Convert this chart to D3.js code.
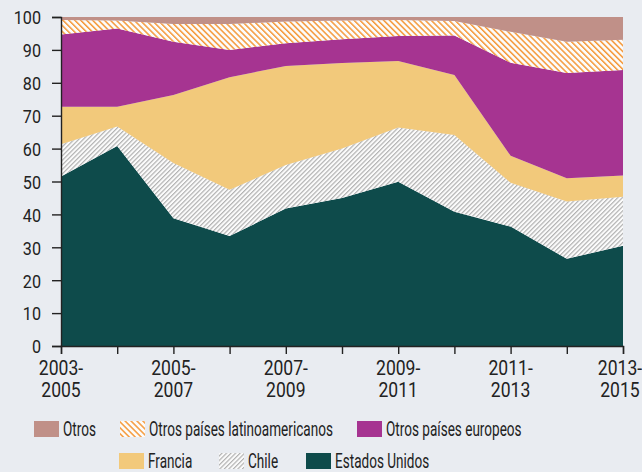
<!DOCTYPE html>
<html>
<head>
<meta charset="utf-8">
<script src="https://cdn.jsdelivr.net/npm/d3@7"></script>
<style>
  body { margin: 0; background: #e9ecf1; }
  svg { display: block; font-family: "Roboto", "Liberation Sans", sans-serif; }
</style>
</head>
<body>
<svg width="642" height="472"></svg>
<script>
// periods (3-year rolling)
const periods = ["2003-2005", "2004-2006", "2005-2007", "2006-2008", "2007-2009", "2008-2010",
  "2009-2011", "2010-2012", "2011-2013", "2012-2014", "2013-2015"];

// shares in percent, bottom to top
const estadosUnidos = [51.5, 60.8, 38.8, 33.4, 41.8, 45.0, 49.9, 40.8, 36.3, 26.5, 30.5];
const chile = [9.8, 5.9, 16.8, 14.1, 13.2, 15.0, 16.5, 23.3, 13.3, 17.4, 14.9];
const francia = [11.4, 6.0, 20.7, 34.2, 30.1, 26.0, 20.2, 18.3, 8.2, 7.1, 6.4];
const otrosEuropeos = [22.0, 23.8, 16.2, 8.3, 6.9, 7.2, 7.6, 12.0, 28.3, 32.0, 32.1];
const otrosLatinos = [4.4, 2.4, 5.4, 7.9, 6.6, 5.7, 4.9, 4.4, 9.4, 9.5, 9.2];
const otros = [0.9, 1.1, 2.1, 2.1, 1.4, 1.1, 0.9, 1.2, 4.5, 7.5, 6.9];

const yTicks = [0, 10, 20, 30, 40, 50, 60, 70, 80, 90, 100];

const series = [
  { key: "us", name: "Estados Unidos", values: estadosUnidos, fill: "#0e4b4b" },
  { key: "cl", name: "Chile", values: chile, fill: "url(#hatchGray)" },
  { key: "fr", name: "Francia", values: francia, fill: "#f2c97b" },
  { key: "oe", name: "Otros países europeos", values: otrosEuropeos, fill: "#a63491" },
  { key: "ol", name: "Otros países latinoamericanos", values: otrosLatinos, fill: "url(#hatchOrange)" },
  { key: "ot", name: "Otros", values: otros, fill: "#c09088" }
];

const svg = d3.select("svg");
const margin = { left: 61, right: 19, top: 17, bottom: 126 };
const width = 642, height = 472;

const x = d3.scalePoint().domain(periods).range([margin.left, width - margin.right]);
const y = d3.scaleLinear().domain([0, 100]).range([height - margin.bottom, margin.top]);

// patterns
const defs = svg.append("defs");
function hatch(id, color, dir, size, lw) {
  const p = defs.append("pattern")
    .attr("id", id)
    .attr("patternUnits", "userSpaceOnUse")
    .attr("width", size).attr("height", size)
    .attr("patternTransform", `rotate(${dir})`);
  p.append("rect").attr("width", size).attr("height", size).attr("fill", "#fcfcfc");
  p.append("rect").attr("width", lw).attr("height", size).attr("fill", color);
}
hatch("hatchGray", "#b2b2b2", 45, 3.2, 1.2);
hatch("hatchOrange", "#f5993a", -45, 4.2, 1.5);

const table = periods.map((p, i) => {
  const row = { period: p };
  series.forEach(s => row[s.key] = s.values[i]);
  return row;
});

const layers = d3.stack().keys(series.map(s => s.key))(table);

const area = d3.area()
  .x(d => x(d.data.period))
  .y0(d => y(d[0]))
  .y1(d => y(d[1]));

// the top layer ("Otros") closes the stack at 100
const topArea = d3.area()
  .x(d => x(d.data.period))
  .y0(d => y(d[0]))
  .y1(y(100));

svg.append("g")
  .selectAll("path")
  .data(layers)
  .join("path")
  .attr("d", (d, i) => i === layers.length - 1 ? topArea(d) : area(d))
  .attr("fill", (d, i) => series[i].fill);

// squeeze text horizontally to mimic the condensed face
function condense(sel, k) {
  sel.each(function() {
    const t = d3.select(this);
    const tx = +t.attr("x") || 0;
    t.attr("transform", `translate(${tx},0) scale(${k},1) translate(${-tx},0)`);
  });
}

// axes
const yAxis = d3.axisLeft(y).tickValues(yTicks).tickSize(9).tickPadding(11);
const gy = svg.append("g").attr("transform", `translate(${margin.left},0)`).call(yAxis);
gy.attr("font-family", null).attr("font-size", null);
gy.select(".domain").attr("stroke", "#222").attr("stroke-width", 1.4);
gy.selectAll(".tick line").attr("stroke", "#222").attr("stroke-width", 1.4);
gy.selectAll("text").attr("font-size", 19).attr("fill", "#222").attr("dy", "0.36em").call(condense, 0.85);

const xAxis = d3.axisBottom(x).tickSize(8).tickFormat("");
const gx = svg.append("g").attr("transform", `translate(0,${y(0)})`).call(xAxis);
gx.select(".domain").attr("stroke", "#222").attr("stroke-width", 1.4);
gx.selectAll(".tick line").attr("stroke", "#222").attr("stroke-width", 1.4);

// two-line period labels on every other tick
const xl = svg.append("g").attr("font-size", 19.5).attr("fill", "#222").attr("text-anchor", "middle");
periods.forEach((p, i) => {
  if (i % 2) return;
  const parts = p.split("-");
  const cx = Math.min(x(p), width - 22);
  const t = xl.append("text").attr("x", cx).attr("y", 375);
  t.append("tspan").attr("x", cx).attr("y", 375).text(parts[0] + "-");
  t.append("tspan").attr("x", cx).attr("y", 397).text(parts[1]);
});
xl.selectAll("text").call(condense, 0.9);

// legend
const legendItems = [
  { s: series[5], x: 34, y: 421 },
  { s: series[4], x: 120, y: 421 },
  { s: series[3], x: 357, y: 421 },
  { s: series[2], x: 119, y: 453 },
  { s: series[1], x: 219, y: 453 },
  { s: series[0], x: 306, y: 453 }
];
const lg = svg.append("g").attr("font-size", 20).attr("fill", "#222");
legendItems.forEach(it => {
  lg.append("rect").attr("x", it.x).attr("y", it.y).attr("width", 25).attr("height", 16).attr("fill", it.s.fill);
  lg.append("text").attr("x", it.x + 29).attr("y", it.y + 15.5).text(it.s.name);
});
// fit the long label to the reference width, apply the same squeeze to all
const longest = lg.selectAll("text").filter(function() { return this.textContent === series[4].name; }).node();
const kLeg = Math.min(1, 184 / longest.getComputedTextLength());
lg.selectAll("text").call(condense, kLeg);
</script>
</body>
</html>
